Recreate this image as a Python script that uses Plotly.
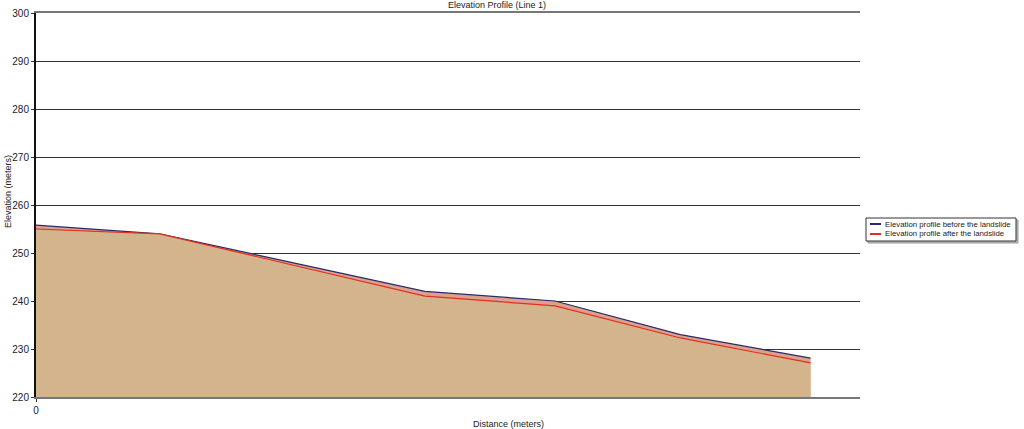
import plotly.graph_objects as go

distance = [0, 15, 47.2, 63, 78.2, 94]
before = [255.8, 254, 242, 240, 233, 228.1]
after = [255, 254, 241, 239, 232.3, 227.1]
y_ticks = [220, 230, 240, 250, 260, 270, 280, 290, 300]
names = ["Elevation profile before the landslide", "Elevation profile after the landslide"]
line_colors = ["#2a2a6a", "#e0301e"]
fill_colors = ["#dca08c", "#d4b48c"]

W, H = 1024, 429
L, R, T, B = 36, 860, 13, 397

def px(x):
    return (x - L) / (R - L)

def py(y):
    return (B - y) / (B - T)

fig = go.Figure()
for ys, name, lc, fc in zip([before, after], names, line_colors, fill_colors):
    fig.add_trace(go.Scatter(
        x=distance, y=ys, mode="lines", name=name, showlegend=False,
        line=dict(color=lc, width=1.2), fill="tozeroy", fillcolor=fc,
        hoverinfo="skip"))

font = "Liberation Sans, Arial, sans-serif"
txt = "#222"

# legend box (drawn manually to match the compact original legend)
shapes = [dict(type="rect", xref="paper", yref="paper",
               x0=px(868), x1=px(1018), y0=py(243), y1=py(220),
               line=dict(color="#999", width=1), fillcolor="#bbb", layer="above"),
          dict(type="rect", xref="paper", yref="paper",
               x0=px(866), x1=px(1016), y0=py(241), y1=py(218),
               line=dict(color="#333", width=1), fillcolor="white", layer="above")]
annotations = []
for i, (name, lc) in enumerate(zip(names, line_colors)):
    yy = 224 + 10 * i
    shapes.append(dict(type="line", xref="paper", yref="paper",
                       x0=px(870), x1=px(881), y0=py(yy), y1=py(yy),
                       line=dict(color=lc, width=2), layer="above"))
    annotations.append(dict(text=name, xref="paper", yref="paper",
                            x=px(883), y=py(yy), xanchor="left", yanchor="middle",
                            showarrow=False, font=dict(size=7.8, color=txt)))

annotations.append(dict(text="Elevation Profile (Line 1)", xref="paper", yref="paper",
                        x=px(497), y=py(5), xanchor="center", yanchor="middle",
                        showarrow=False, font=dict(size=9, color=txt)))
annotations.append(dict(text="Distance (meters)", xref="paper", yref="paper",
                        x=px(508), y=py(424), xanchor="center", yanchor="middle",
                        showarrow=False, font=dict(size=9, color=txt)))
annotations.append(dict(text="Elevation (meters)", xref="paper", yref="paper",
                        x=px(8), y=py(192), xanchor="center", yanchor="middle",
                        textangle=-90, showarrow=False, font=dict(size=9, color=txt)))

fig.update_layout(
    width=W, height=H,
    margin=dict(l=L, r=W - R, t=T, b=H - B, autoexpand=False, pad=0),
    paper_bgcolor="white", plot_bgcolor="white",
    font=dict(family=font, size=10, color=txt),
    showlegend=False,
    shapes=shapes, annotations=annotations,
)
fig.update_xaxes(range=[0, 100], tickvals=[0], ticktext=["0"], showgrid=False,
                 showline=True, linecolor="#777", linewidth=2, mirror=True,
                 ticks="outside", ticklen=3, tickcolor="#333", zeroline=False,
                 tickfont=dict(size=10))
fig.update_yaxes(range=[220, 300], tickvals=y_ticks, showgrid=True, gridcolor="#333",
                 gridwidth=1, showline=True, linecolor="#111", linewidth=2,
                 ticks="outside", ticklen=3, tickcolor="#333", zeroline=False,
                 tickfont=dict(size=10))

fig.write_html("out.html", config={"displayModeBar": False},
               post_script="document.body.style.margin='0';")
